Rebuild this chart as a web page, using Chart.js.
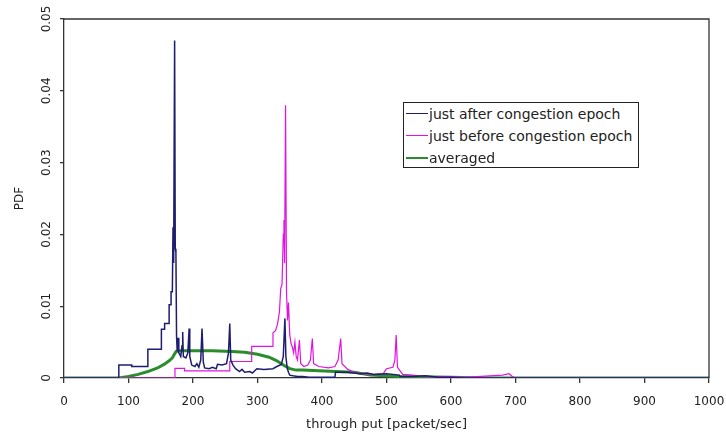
<!DOCTYPE html>
<html>
<head>
<meta charset="utf-8">
<script src="https://cdn.jsdelivr.net/npm/chart.js@4"></script>
<style>
  body { margin: 0; background: #fff; }
  #wrap { position: relative; width: 726px; height: 437px; }
  #legend {
    position: absolute; left: 403px; top: 102px; width: 234px; height: 64px;
    border: 1px solid #222; background: #fff;
    font-family: "DejaVu Sans", sans-serif; font-size: 14px; color: #222;
  }
  #legend .row { position: relative; height: 22px; line-height: 22px; white-space: nowrap; }
  #legend .line { position: absolute; left: 2px; top: 10px; width: 22px; }
  #legend .txt { position: absolute; left: 25px; top: 0; }
</style>
</head>
<body>
<div id="wrap">
  <canvas id="pdfChart"></canvas>
  <div id="legend"></div>
</div>
<script>
// throughput (packet/sec) and PDF values
const afterX = [0, 85, 85, 105, 105, 130, 130, 151, 151, 156, 156, 163, 163, 166, 166, 168, 169, 170, 171.5, 172.5, 173.5, 174.5, 175.5, 177, 178, 181, 183, 184, 185, 189, 192, 194, 195, 198, 203, 206, 209, 212, 214, 216, 218, 225, 230, 236, 238, 245, 252, 255, 257, 258.5, 262, 266, 272, 276, 280, 288, 292, 299, 310, 324, 330, 337, 340, 342.5, 344, 346, 348, 350, 355, 362, 370, 380, 420, 421, 440, 460, 470, 480, 500, 520, 521, 540, 560, 580, 600, 620, 1000];
const afterY = [0, 0, 0.0018, 0.0018, 0.0016, 0.0016, 0.004, 0.004, 0.0068, 0.0068, 0.0076, 0.0076, 0.0102, 0.0102, 0.012, 0.012, 0.021, 0.016, 0.047, 0.018, 0.0175, 0.0058, 0.0037, 0.0056, 0.0035, 0.003, 0.0045, 0.0064, 0.003, 0.0028, 0.0035, 0.0069, 0.003, 0.0018, 0.0016, 0.002, 0.0015, 0.0025, 0.0069, 0.0022, 0.0014, 0.0013, 0.0015, 0.0013, 0.0019, 0.0018, 0.002, 0.0035, 0.0076, 0.0025, 0.0018, 0.0013, 0.0009, 0.0012, 0.0008, 0.0009, 0.0007, 0.0013, 0.0012, 0.0013, 0.0016, 0.0019, 0.003, 0.0083, 0.003, 0.0014, 0.0008, 0.0004, 0.0003, 0.0002, 0.0002, 0.0001, 0.0001, 0.0008, 0.0008, 0.0006, 0.0007, 0.0005, 0.0006, 0.0004, 0.0002, 0.0002, 0.0003, 0.0001, 0.0001, 0, 0];

const beforeX = [0, 172, 172, 187, 187, 257, 257, 291, 291, 324, 324, 328, 331, 334, 336, 338, 340, 341, 342, 343.5, 345, 346.5, 348, 350, 352, 354, 356, 358, 360, 362, 365, 367, 372, 378, 382, 385, 387, 395, 410, 420, 425, 429, 431, 440, 450, 460, 480, 495, 500, 510, 513, 515, 517, 525, 540, 560, 600, 620, 640, 660, 680, 690, 695, 700, 1000];
const beforeY = [0, 0, 0.00135, 0.00135, 0.001, 0.001, 0.0023, 0.0023, 0.0044, 0.0044, 0.0063, 0.0066, 0.0075, 0.0092, 0.0125, 0.013, 0.02, 0.022, 0.016, 0.038, 0.012, 0.008, 0.0105, 0.006, 0.0048, 0.0043, 0.0035, 0.005, 0.003, 0.0025, 0.0053, 0.002, 0.0016, 0.0018, 0.0025, 0.0055, 0.002, 0.0016, 0.0014, 0.0016, 0.0025, 0.0055, 0.002, 0.0012, 0.0008, 0.0006, 0.0005, 0.0006, 0.0013, 0.0015, 0.0025, 0.006, 0.0015, 0.0005, 0.0004, 0.0002, 0.0002, 0.0001, 0.0002, 0.0003, 0.0004, 0.0006, 0.0002, 0, 0];

const avgX = [0, 85, 100, 115, 130, 145, 155, 163, 168, 171, 174, 180, 200, 230, 260, 280, 300, 318, 330, 340, 350, 360, 370, 420, 450, 475, 520, 600, 650, 1000];
const avgY = [0, 0, 0.0002, 0.0005, 0.0009, 0.0014, 0.0019, 0.0024, 0.0028, 0.0033, 0.0037, 0.0038, 0.0038, 0.0038, 0.0037, 0.0036, 0.0033, 0.0029, 0.0024, 0.0018, 0.0013, 0.0011, 0.0011, 0.0009, 0.0008, 0.0004, 0.0002, 0.0001, 0, 0];

const seriesNames = ["just after congestion epoch", "just before congestion epoch", "averaged"];
const seriesColors = ["#1e1e70", "#e014e0", "#2a8c2a"];
const seriesWidths = [1.5, 1.2, 3];

const toPoints = (xs, ys) => xs.map((x, i) => ({ x: x, y: ys[i] }));

// top and right edge of the plot box
const frame = {
  id: "frame",
  afterDraw(chart) {
    const { ctx, chartArea: a } = chart;
    ctx.save();
    ctx.strokeStyle = "#333";
    ctx.lineWidth = 1.3;
    ctx.beginPath();
    ctx.moveTo(a.left, a.top);
    ctx.lineTo(a.right, a.top);
    ctx.lineTo(a.right, a.bottom);
    ctx.stroke();
    ctx.restore();
  },
};

const tickFont = { family: "DejaVu Sans", size: 12 };

new Chart(document.getElementById("pdfChart"), {
  type: "line",
  data: {
    datasets: [
      { label: seriesNames[0], data: toPoints(afterX, afterY) },
      { label: seriesNames[1], data: toPoints(beforeX, beforeY) },
      { label: seriesNames[2], data: toPoints(avgX, avgY) },
    ].map((d, i) => ({
      ...d,
      borderColor: seriesColors[i],
      borderWidth: seriesWidths[i],
      pointRadius: 0,
      tension: 0,
      fill: false,
    })),
  },
  options: {
    responsive: true,
    maintainAspectRatio: false,
    animation: false,
    layout: { padding: { top: 19, right: 17, left: 0, bottom: 0 } },
    plugins: { legend: { display: false }, tooltip: { enabled: false } },
    scales: {
      x: {
        type: "linear",
        min: 0,
        max: 1000,
        ticks: {
          stepSize: 100,
          color: "#222",
          font: tickFont,
          padding: 12,
          maxRotation: 0,
          callback: (v) => String(v),
        },
        grid: { drawOnChartArea: false, tickLength: 5, color: "#333", lineWidth: 1.3 },
        border: { color: "#333", width: 1.3 },
        title: {
          display: true,
          text: "through put [packet/sec]",
          color: "#222",
          font: { family: "DejaVu Sans", size: 13 },
          padding: { top: 0, bottom: 5 },
        },
        afterFit(scale) {
          scale.height = 59;
          scale.paddingLeft = 4;
          scale.paddingRight = 15;
        },
      },
      y: {
        min: 0,
        max: 0.05,
        ticks: {
          stepSize: 0.01,
          color: "#222",
          font: tickFont,
          minRotation: 90,
          maxRotation: 90,
          crossAlign: "center",
          padding: 0,
        },
        grid: { drawOnChartArea: false, tickLength: 4, color: "#333", lineWidth: 1.3 },
        border: { color: "#333", width: 1.3 },
        title: {
          display: true,
          text: "PDF",
          color: "#222",
          font: { family: "DejaVu Sans", size: 12 },
          padding: { top: 13, bottom: 0 },
        },
        afterFit(scale) {
          scale.width = 64;
          scale.paddingTop = 10;
          scale.paddingBottom = 4;
        },
      },
    },
  },
  plugins: [frame],
});

// legend box drawn as html inside the plot
const legend = document.getElementById("legend");
seriesNames.forEach((name, i) => {
  const row = document.createElement("div");
  row.className = "row";
  const line = document.createElement("span");
  line.className = "line";
  line.style.borderTop = Math.min(seriesWidths[i], 2) + "px solid " + seriesColors[i];
  const txt = document.createElement("span");
  txt.className = "txt";
  txt.textContent = name;
  row.appendChild(line);
  row.appendChild(txt);
  legend.appendChild(row);
});
</script>
</body>
</html>
